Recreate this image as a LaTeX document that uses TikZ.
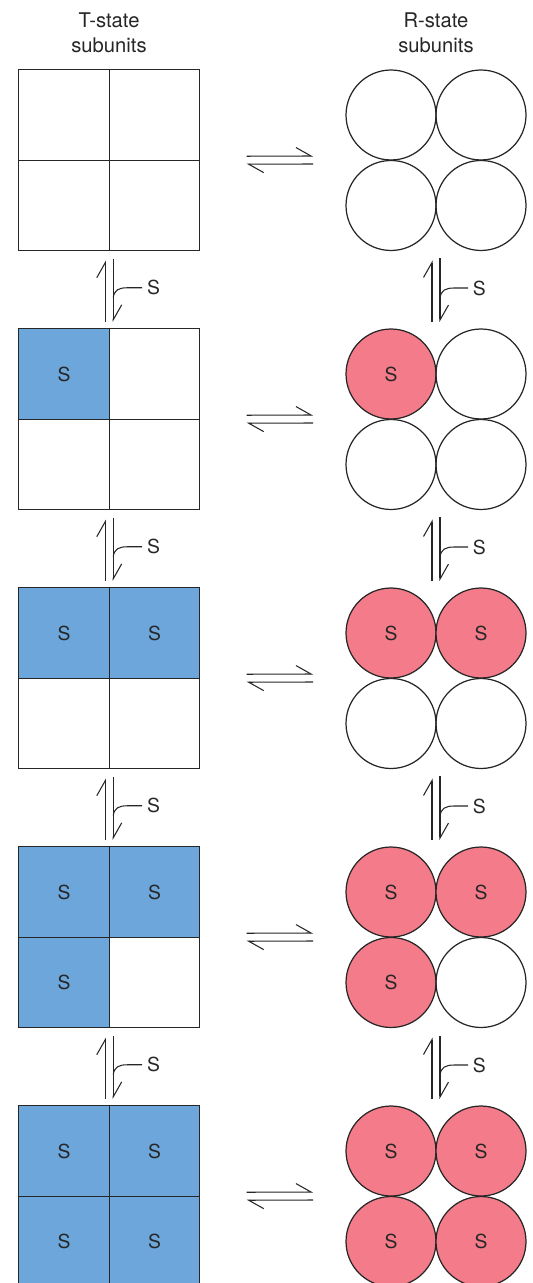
\documentclass[tikz,border=0pt]{standalone}
\usepackage{fontspec}
\setmainfont{TeX Gyre Heros}
\usetikzlibrary{arrows.meta}
\definecolor{tblue}{HTML}{6CA6DA}
\definecolor{rpink}{HTML}{F47C8A}
\definecolor{ink}{HTML}{262626}

\begin{document}
\begin{tikzpicture}[x=0.02cm, y=-0.02cm,
  tcell/.style={draw=ink, line width=0.7pt, minimum size=1.81cm, inner sep=0pt, outer sep=0pt, font=\fontsize{11}{13}\selectfont, text=ink},
  tbound/.style={tcell, fill=tblue},
  rcell/.style={circle, draw=ink, line width=0.7pt, minimum size=1.8cm, inner sep=0pt, outer sep=0pt, font=\fontsize{11}{13}\selectfont, text=ink},
  rbound/.style={rcell, fill=rpink},
  head/.style={font=\fontsize{11.5}{14.2}\selectfont, text=ink, align=center},
  half/.style={draw=ink, line width=0.6pt, -{Straight Barb[harpoon, length=0.3cm, width=0.34cm]}},
  feed/.style={draw=ink, line width=0.6pt},
  sub/.style={font=\fontsize{11}{13}\selectfont, text=ink, anchor=west, inner sep=2.5pt}
]
\useasboundingbox (0,0) rectangle (532,1283);

% Column headings
\node[head] (Thead) at (109,33) {T-state\\subunits};
\node[head] (Rhead) at (436,33) {R-state\\subunits};

% Row 1 — no substrate bound
\node[tcell] (T1a) at (64,115) {};
\node[tcell] (T1b) at (154.5,115) {};
\node[tcell] (T1c) at (64,205.5) {};
\node[tcell] (T1d) at (154.5,205.5) {};
\node[rcell] (R1a) at (391,115) {};
\node[rcell] (R1b) at (481,115) {};
\node[rcell] (R1c) at (391,205.5) {};
\node[rcell] (R1d) at (481,205.5) {};

% Row 2 — one S bound
\node[tbound] (T2a) at (64,374) {S};
\node[tcell] (T2b) at (154.5,374) {};
\node[tcell] (T2c) at (64,464.5) {};
\node[tcell] (T2d) at (154.5,464.5) {};
\node[rbound] (R2a) at (391,374) {S};
\node[rcell] (R2b) at (481,374) {};
\node[rcell] (R2c) at (391,464.5) {};
\node[rcell] (R2d) at (481,464.5) {};

% Row 3 — two S bound
\node[tbound] (T3a) at (64,633) {S};
\node[tbound] (T3b) at (154.5,633) {S};
\node[tcell] (T3c) at (64,723.5) {};
\node[tcell] (T3d) at (154.5,723.5) {};
\node[rbound] (R3a) at (391,633) {S};
\node[rbound] (R3b) at (481,633) {S};
\node[rcell] (R3c) at (391,723.5) {};
\node[rcell] (R3d) at (481,723.5) {};

% Row 4 — three S bound
\node[tbound] (T4a) at (64,892) {S};
\node[tbound] (T4b) at (154.5,892) {S};
\node[tbound] (T4c) at (64,982.5) {S};
\node[tcell] (T4d) at (154.5,982.5) {};
\node[rbound] (R4a) at (391,892) {S};
\node[rbound] (R4b) at (481,892) {S};
\node[rbound] (R4c) at (391,982.5) {S};
\node[rcell] (R4d) at (481,982.5) {};

% Row 5 — fully bound
\node[tbound] (T5a) at (64,1151) {S};
\node[tbound] (T5b) at (154.5,1151) {S};
\node[tbound] (T5c) at (64,1241.5) {S};
\node[tbound] (T5d) at (154.5,1241.5) {S};
\node[rbound] (R5a) at (391,1151) {S};
\node[rbound] (R5b) at (481,1151) {S};
\node[rbound] (R5c) at (391,1241.5) {S};
\node[rbound] (R5d) at (481,1241.5) {S};

% T <-> R equilibria
\draw[half] ([shift={(47,-4)}]T1b.south east) -- ([shift={(-78,-4)}]R1a.south);
\draw[half] ([shift={(-78,4)}]R1a.south) -- ([shift={(47,4)}]T1b.south east);
\draw[half] ([shift={(47,-4)}]T2b.south east) -- ([shift={(-78,-4)}]R2a.south);
\draw[half] ([shift={(-78,4)}]R2a.south) -- ([shift={(47,4)}]T2b.south east);
\draw[half] ([shift={(47,-4)}]T3b.south east) -- ([shift={(-78,-4)}]R3a.south);
\draw[half] ([shift={(-78,4)}]R3a.south) -- ([shift={(47,4)}]T3b.south east);
\draw[half] ([shift={(47,-4)}]T4b.south east) -- ([shift={(-78,-4)}]R4a.south);
\draw[half] ([shift={(-78,4)}]R4a.south) -- ([shift={(47,4)}]T4b.south east);
\draw[half] ([shift={(47,-4)}]T5b.south east) -- ([shift={(-78,-4)}]R5a.south);
\draw[half] ([shift={(-78,4)}]R5a.south) -- ([shift={(47,4)}]T5b.south east);

% Binding steps, T-state column
\draw[half] ([shift={(-4,-7)}]T2a.north east) -- ([shift={(-4,10)}]T1c.south east);
\draw[half] ([shift={(4,8)}]T1c.south east) -- ([shift={(4,-7)}]T2a.north east);
\draw[feed] ([shift={(4,-31)}]T2a.north east) .. controls +(1,-8) and +(-8,0) .. ++(14,-10) -- ++(15,0) node[sub] (ST12) {S};
\draw[half] ([shift={(-4,-7)}]T3a.north east) -- ([shift={(-4,10)}]T2c.south east);
\draw[half] ([shift={(4,8)}]T2c.south east) -- ([shift={(4,-7)}]T3a.north east);
\draw[feed] ([shift={(4,-31)}]T3a.north east) .. controls +(1,-8) and +(-8,0) .. ++(14,-10) -- ++(15,0) node[sub] (ST23) {S};
\draw[half] ([shift={(-4,-7)}]T4a.north east) -- ([shift={(-4,10)}]T3c.south east);
\draw[half] ([shift={(4,8)}]T3c.south east) -- ([shift={(4,-7)}]T4a.north east);
\draw[feed] ([shift={(4,-31)}]T4a.north east) .. controls +(1,-8) and +(-8,0) .. ++(14,-10) -- ++(15,0) node[sub] (ST34) {S};
\draw[half] ([shift={(-4,-7)}]T5a.north east) -- ([shift={(-4,10)}]T4c.south east);
\draw[half] ([shift={(4,8)}]T4c.south east) -- ([shift={(4,-7)}]T5a.north east);
\draw[feed] ([shift={(4,-31)}]T5a.north east) .. controls +(1,-8) and +(-8,0) .. ++(14,-10) -- ++(15,0) node[sub] (ST45) {S};

% Binding steps, R-state column
\draw[half] ([shift={(41,-7)}]R2a.north) -- ([shift={(41,10)}]R1c.south);
\draw[half] ([shift={(49,8)}]R1c.south) -- ([shift={(49,-7)}]R2a.north);
\draw[feed] ([shift={(49,-31)}]R2a.north) .. controls +(1,-8) and +(-8,0) .. ++(14,-10) -- ++(14,0) node[sub] (SR12) {S};
\draw[half] ([shift={(41,-7)}]R3a.north) -- ([shift={(41,10)}]R2c.south);
\draw[half] ([shift={(49,8)}]R2c.south) -- ([shift={(49,-7)}]R3a.north);
\draw[feed] ([shift={(49,-31)}]R3a.north) .. controls +(1,-8) and +(-8,0) .. ++(14,-10) -- ++(14,0) node[sub] (SR23) {S};
\draw[half] ([shift={(41,-7)}]R4a.north) -- ([shift={(41,10)}]R3c.south);
\draw[half] ([shift={(49,8)}]R3c.south) -- ([shift={(49,-7)}]R4a.north);
\draw[feed] ([shift={(49,-31)}]R4a.north) .. controls +(1,-8) and +(-8,0) .. ++(14,-10) -- ++(14,0) node[sub] (SR34) {S};
\draw[half] ([shift={(41,-7)}]R5a.north) -- ([shift={(41,10)}]R4c.south);
\draw[half] ([shift={(49,8)}]R4c.south) -- ([shift={(49,-7)}]R5a.north);
\draw[feed] ([shift={(49,-31)}]R5a.north) .. controls +(1,-8) and +(-8,0) .. ++(14,-10) -- ++(14,0) node[sub] (SR45) {S};

\end{tikzpicture}
\end{document}
